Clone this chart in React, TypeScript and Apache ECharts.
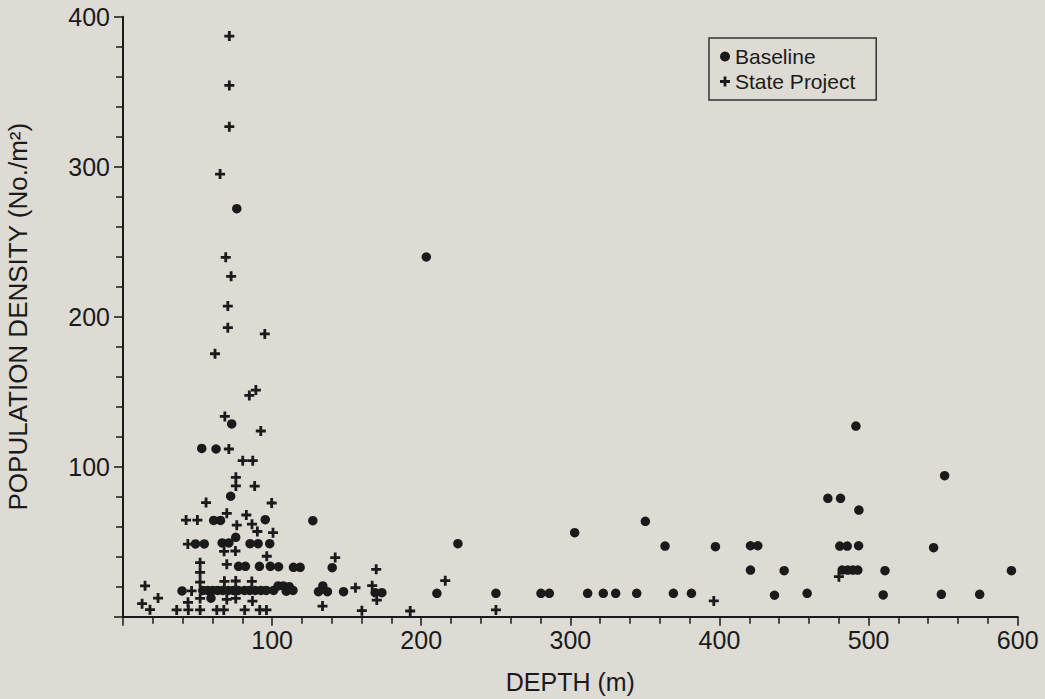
import React, { useEffect, useRef } from "react";
import * as echarts from "echarts";

// Depth (m), population density (No./m²)
const baseline: [number, number][] = [
  [76.3, 272], [203.4, 239.8], [72.9, 128.5], [52.8, 112.2], [62.4, 111.8],
  [72.2, 80.3], [60.8, 64.2], [65.4, 64.2], [95.4, 64.7], [127.3, 64],
  [48.6, 48.5], [54.5, 48.5], [66.5, 49.2], [71.0, 49.2], [75.6, 52.9],
  [85.2, 48.7], [90.6, 48.7], [98.4, 48.7],
  [77.5, 33.6], [82.1, 33.6], [91.5, 33.6], [98.8, 33.6], [104.3, 33.3],
  [114.3, 32.9], [118.8, 32.9], [140.3, 32.7],
  [39.6, 17.2], [53.5, 17.5], [56.8, 17.5], [60.2, 17.5], [63.5, 17.5],
  [67.0, 17.5], [70.5, 17.5], [74.0, 17.5], [77.2, 17.5], [81.5, 17.5],
  [85.0, 17.5], [88.6, 17.5], [92.5, 17.5], [96.0, 17.5], [101.0, 17.5],
  [104.0, 20.5], [107.5, 20.5], [109.5, 17], [111.5, 20], [114.0, 17.5],
  [59.0, 12.3],
  [131.1, 16.7], [134.0, 20.5], [137.1, 16.7], [147.9, 16.7], [169.1, 16], [173.6, 16],
  [210.5, 15.6], [224.6, 48.7], [250.1, 15.6], [280.3, 15.6], [285.9, 15.6],
  [302.9, 56], [311.6, 15.6], [322.1, 15.6], [330.4, 15.6], [344.5, 15.6],
  [350.3, 63.6], [363.5, 47.1], [369.1, 15.6], [381.2, 15.6], [397.3, 46.7],
  [420.8, 47.3], [425.7, 47.3], [420.8, 31.1], [443.4, 30.7], [436.9, 14.3],
  [458.8, 15.6], [472.7, 78.9], [481.2, 78.9], [491.5, 127.1], [493.5, 71.1],
  [480.7, 47.1], [485.7, 47.1], [493.3, 47.3], [482.3, 31.1], [486.0, 31.1],
  [489.5, 31.1], [492.8, 31.1], [511.0, 30.7], [509.8, 14.5], [551.0, 94],
  [543.6, 46], [548.8, 14.9], [574.5, 14.9], [595.8, 30.7],
];

const stateProject: [number, number][] = [
  [71.3, 387.1], [71.3, 354.2], [71.3, 326.7], [65.1, 295.1], [68.9, 239.6],
  [72.5, 226.9], [70.3, 207.1], [70.3, 192.7], [95.1, 188.5], [61.7, 175.3],
  [84.7, 147.5], [89.1, 151.1], [68.3, 133.5], [92.4, 123.8], [71.0, 111.8],
  [80.3, 104], [87.0, 104], [75.7, 92.9], [75.7, 87.2], [88.3, 87.1],
  [55.7, 76.1], [99.7, 75.8], [42.3, 64.4], [49.9, 64.4], [69.6, 68.9],
  [82.7, 67.8], [76.3, 61], [86.5, 61.7], [90.1, 56.8], [100.6, 56],
  [43.5, 48.4], [67.8, 43.6], [75.4, 43.8], [96.4, 40.3], [51.7, 36],
  [51.7, 29.5], [69.6, 34.9], [51.7, 23], [68.0, 23.6], [75.6, 23.8],
  [86.4, 23.5], [14.8, 20.6], [46.0, 17.2], [23.5, 12.4], [51.7, 12.2],
  [43.6, 9.6], [69.6, 11.5], [75.6, 12.2], [86.8, 10.4], [12.8, 8.7],
  [18.1, 4.7], [36.0, 4.5], [43.8, 4.5], [51.7, 4.5], [62.9, 4.5],
  [67.6, 4.5], [81.6, 4.5], [91.7, 4.5], [96.2, 4.5],
  [142.3, 39.4], [133.8, 7.1], [155.9, 19.3], [160.2, 4], [167.1, 20.7],
  [170.2, 11.1], [169.8, 31.6], [192.6, 3.8], [216.1, 24], [250.1, 4.5],
  [396.2, 10.5], [480.1, 26.7],
];

const seriesNames = ["Baseline", "State Project"];
const xTitle = "DEPTH (m)";
const yTitle = "POPULATION DENSITY (No./m²)";

const PLUS = "path://M3.6,0H6.4V3.6H10V6.4H6.4V10H3.6V6.4H0V3.6H3.6Z";
const INK = "#1a1a1a";
const FONT = "'Liberation Sans', Arial, Helvetica, sans-serif";

export default function App() {
  const ref = useRef<HTMLDivElement>(null);
  useEffect(() => {
    if (!ref.current) return;
    const chart = echarts.init(ref.current, undefined, { renderer: "svg" });
    const axisCommon = {
      axisLine: { show: true, onZero: false, lineStyle: { color: INK, width: 2 } },
      axisTick: { show: true, inside: false, length: 9, lineStyle: { color: INK, width: 1.5 } },
      minorTick: { show: true, splitNumber: 5, length: 7, lineStyle: { color: INK, width: 1.5 } },
      splitLine: { show: false },
      minorSplitLine: { show: false },
      nameTextStyle: { fontSize: 25, color: INK, fontFamily: FONT },
    };
    chart.setOption({
      animation: false,
      backgroundColor: "#dddbd4",
      textStyle: { fontFamily: FONT },
      grid: {
        left: 123,
        right: 27.3,
        top: 16.7,
        bottom: 82.3,
        containLabel: false,
        outerBoundsMode: "none",
      },
      legend: {
        orient: "vertical",
        left: 709,
        top: 38,
        padding: [8, 21, 8, 11],
        itemGap: 4,
        itemWidth: 10,
        itemHeight: 10,
        borderColor: "#333",
        borderWidth: 1.5,
        textStyle: { fontSize: 21, color: INK, fontFamily: FONT },
        data: [
          { name: seriesNames[0], icon: "circle" },
          { name: seriesNames[1], icon: PLUS },
        ],
      },
      xAxis: {
        type: "value",
        min: 0,
        max: 600,
        interval: 100,
        name: xTitle,
        nameLocation: "middle",
        nameGap: 53,
        ...axisCommon,
        axisLabel: { showMinLabel: false, fontSize: 25, color: INK, margin: 11, fontFamily: FONT },
      },
      yAxis: {
        type: "value",
        min: 0,
        max: 400,
        interval: 100,
        name: yTitle,
        nameLocation: "middle",
        nameRotate: 90,
        nameGap: 92,
        ...axisCommon,
        nameTextStyle: { fontSize: 26, color: INK, fontFamily: FONT },
        axisLabel: { showMinLabel: false, fontSize: 25, color: INK, margin: 13, fontFamily: FONT },
      },
      series: [
        {
          name: seriesNames[0],
          type: "scatter",
          data: baseline,
          symbol: "circle",
          symbolSize: 9.5,
          itemStyle: { color: INK, opacity: 1 },
        },
        {
          name: seriesNames[1],
          type: "scatter",
          data: stateProject,
          symbol: PLUS,
          symbolSize: 10,
          itemStyle: { color: INK, opacity: 1 },
        },
      ],
    });
    return () => chart.dispose();
  }, []);
  return (
    <div
      ref={ref}
      style={{ position: "fixed", left: 0, top: 0, width: 1045, height: 699 }}
    />
  );
}
